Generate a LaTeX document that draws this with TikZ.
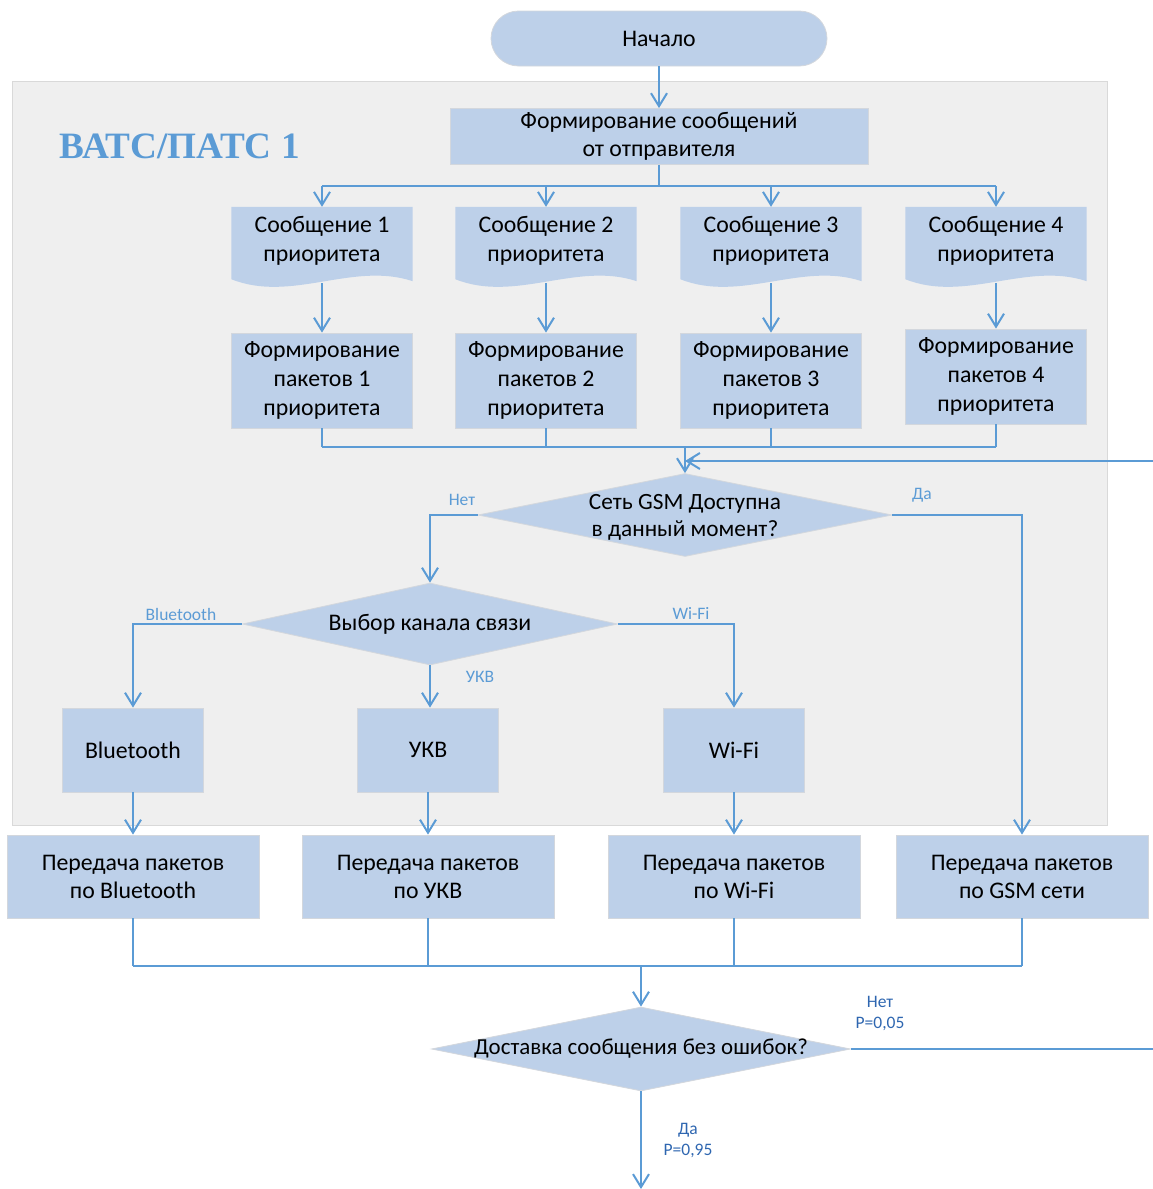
\documentclass[tikz,border=0pt]{standalone}
\usepackage{fontspec}
\setmainfont{Carlito}
\newfontfamily\titlefont{Liberation Serif}
\usetikzlibrary{arrows.meta,shapes.geometric,backgrounds,positioning}
\definecolor{boxfill}{HTML}{BDD0E9}
\definecolor{boxline}{HTML}{D3D7DD}
\definecolor{linkblue}{HTML}{5B9BD5}
\definecolor{panelfill}{HTML}{EFEFEF}
\definecolor{panelline}{HTML}{D9D9D9}
\definecolor{darkblue}{HTML}{2E66B0}

\begin{document}
\begin{tikzpicture}[x=1pt,y=-1pt,
  blk/.style={draw=boxline,fill=boxfill,line width=0.8pt,align=center,inner sep=0pt,
    font=\fontsize{23.8}{29}\selectfont},
  doc/.style={minimum width=181,minimum height=76,inner sep=0pt},
  dia/.style={diamond,draw=boxline,fill=boxfill,line width=0.8pt,inner sep=0pt},
  txt/.style={align=center,font=\fontsize{23.8}{28.5}\selectfont},
  lbl/.style={text=linkblue,font=\fontsize{17.5}{20}\selectfont},
  plbl/.style={text=darkblue,align=center,font=\fontsize{17.5}{21}\selectfont},
  link/.style={draw=linkblue,line width=2pt},
  arr/.style={link,-{Straight Barb[length=13pt,width=16pt]}}]
\useasboundingbox (0,0) rectangle (1153,1189);

% start and first block
\node[blk,rounded corners=27.5pt,minimum width=336,minimum height=55] (start) at (659,38.5) {Начало};
\node[font=\titlefont\bfseries\fontsize{37.2}{42}\selectfont,text=linkblue,anchor=west] (ttl) at (56,146) {ВАТС/ПАТС 1};
\node[blk,minimum width=418,minimum height=56,font=\fontsize{23.8}{28}\selectfont] (form) at (659,136.5) {Формирование сообщений\\от отправителя};
\draw[arr] (start) -- (form);

% messages and packets per priority
\foreach \x [count=\i] in {322,546,771,996}
  \node[doc,label={[txt,yshift=4pt]center:{Сообщение \i\\приоритета}}] (d\i) at (\x,245) {};
\foreach \x [count=\i] in {322,546,771}
  \node[blk,minimum width=181,minimum height=95] (p\i) at (\x,380.5) {Формирование\\пакетов \i\\приоритета};
\node[blk,minimum width=181,minimum height=95] (p4) at (996,376.5) {Формирование\\пакетов 4\\приоритета};

\coordinate (split) at (659,186);
\draw[link] (form) -- (split);
\draw[link] (d1.north |- split) -- (d4.north |- split);
\foreach \i in {1,...,4}{
  \draw[arr] (d\i.north |- split) -- (d\i.north);
  \draw[arr] (d\i.south) -- (p\i.north);
}

% GSM check
\node[dia,minimum width=414,minimum height=83,label={[txt,yshift=-2pt,font=\fontsize{23.3}{27}\selectfont]center:{Сеть GSM Доступна\\в данный момент?}}] (gsm) at (685,515) {};
\coordinate (join1) at (gsm.north |- 0,447);
\foreach \i in {1,...,4} \draw[link] (p\i.south) -- (p\i.south |- join1);
\draw[link] (p1.south |- join1) -- (p4.south |- join1);
\draw[arr] (join1) -- (gsm.north);
\coordinate (back) at (1153,461);
\draw[arr] (back) -- (back -| gsm.north);

% channel choice
\node[dia,minimum width=375,minimum height=82,label={[txt]center:{Выбор канала связи}}] (chan) at (430,624) {};
\node[blk,minimum width=141,minimum height=84] (bt) at (133,750) {Bluetooth};
\node[blk,minimum width=141,minimum height=84] (ukv) at (428,750) {УКВ};
\node[blk,minimum width=141,minimum height=84] (wf) at (734,750) {Wi-Fi};
\draw[arr] (gsm.west) -| (chan.north);
\draw[arr] (chan.west) -| (bt.north);
\draw[arr] (chan.east) -| (wf.north);
\draw[arr] (chan.south) -- (chan.south |- ukv.north);
\node[lbl] (no1) at (462,500) {Нет};
\node[lbl] (yes1) at (922,495) {Да};
\node[lbl] (lbt) at (181,614) {Bluetooth};
\node[lbl] (lwf) at (691,613) {Wi-Fi};
\node[lbl] (lukv) at (480,677) {УКВ};

% transmission
\node[blk,minimum width=252,minimum height=83,font=\fontsize{23.8}{28}\selectfont] (txb) at (133,876.5) {Передача пакетов\\по Bluetooth};
\node[blk,minimum width=252,minimum height=83,font=\fontsize{23.8}{28}\selectfont] (txu) at (428,876.5) {Передача пакетов\\по УКВ};
\node[blk,minimum width=252,minimum height=83,font=\fontsize{23.8}{28}\selectfont] (txw) at (734,876.5) {Передача пакетов\\по Wi-Fi};
\node[blk,minimum width=252,minimum height=83,font=\fontsize{23.8}{28}\selectfont] (txg) at (1022,876.5) {Передача пакетов\\по GSM сети};
\draw[arr] (bt) -- (txb);
\draw[arr] (ukv) -- (txu);
\draw[arr] (wf) -- (txw);
\draw[arr] (gsm.east) -| (txg.north);

% delivery check
\node[dia,minimum width=419,minimum height=84,label={[txt,font=\fontsize{22.9}{27}\selectfont]center:{Доставка сообщения без ошибок?}}] (deliv) at (641,1049) {};
\coordinate (join2) at (deliv.north |- 0,966);
\foreach \n in {txb,txu,txw,txg} \draw[link] (\n.south) -- (\n.south |- join2);
\draw[link] (txb.south |- join2) -- (txg.south |- join2);
\draw[arr] (join2) -- (deliv.north);
\coordinate (outr) at (1153,1049);
\coordinate (outd) at (641,1189);
\draw[link] (deliv.east) -- (outr);
\draw[arr] (deliv.south) -- (outd);
\node[plbl] (no2) at (880,1013) {Нет\\P=0,05};
\node[plbl] (yes2) at (688,1140) {Да\\P=0,95};

% panel and document shapes
\begin{scope}[on background layer]
  \filldraw[fill=panelfill,draw=panelline,line width=1pt] (12,81) rectangle (1107,825);
  \foreach \i in {1,...,4}
    \fill[boxfill] (d\i.north west) -- (d\i.north east) -- ([yshift=2pt]d\i.south east)
      .. controls +(-60,-20) and +(60,24) .. ([yshift=4pt]d\i.south west) -- cycle;
\end{scope}
\end{tikzpicture}
\end{document}
